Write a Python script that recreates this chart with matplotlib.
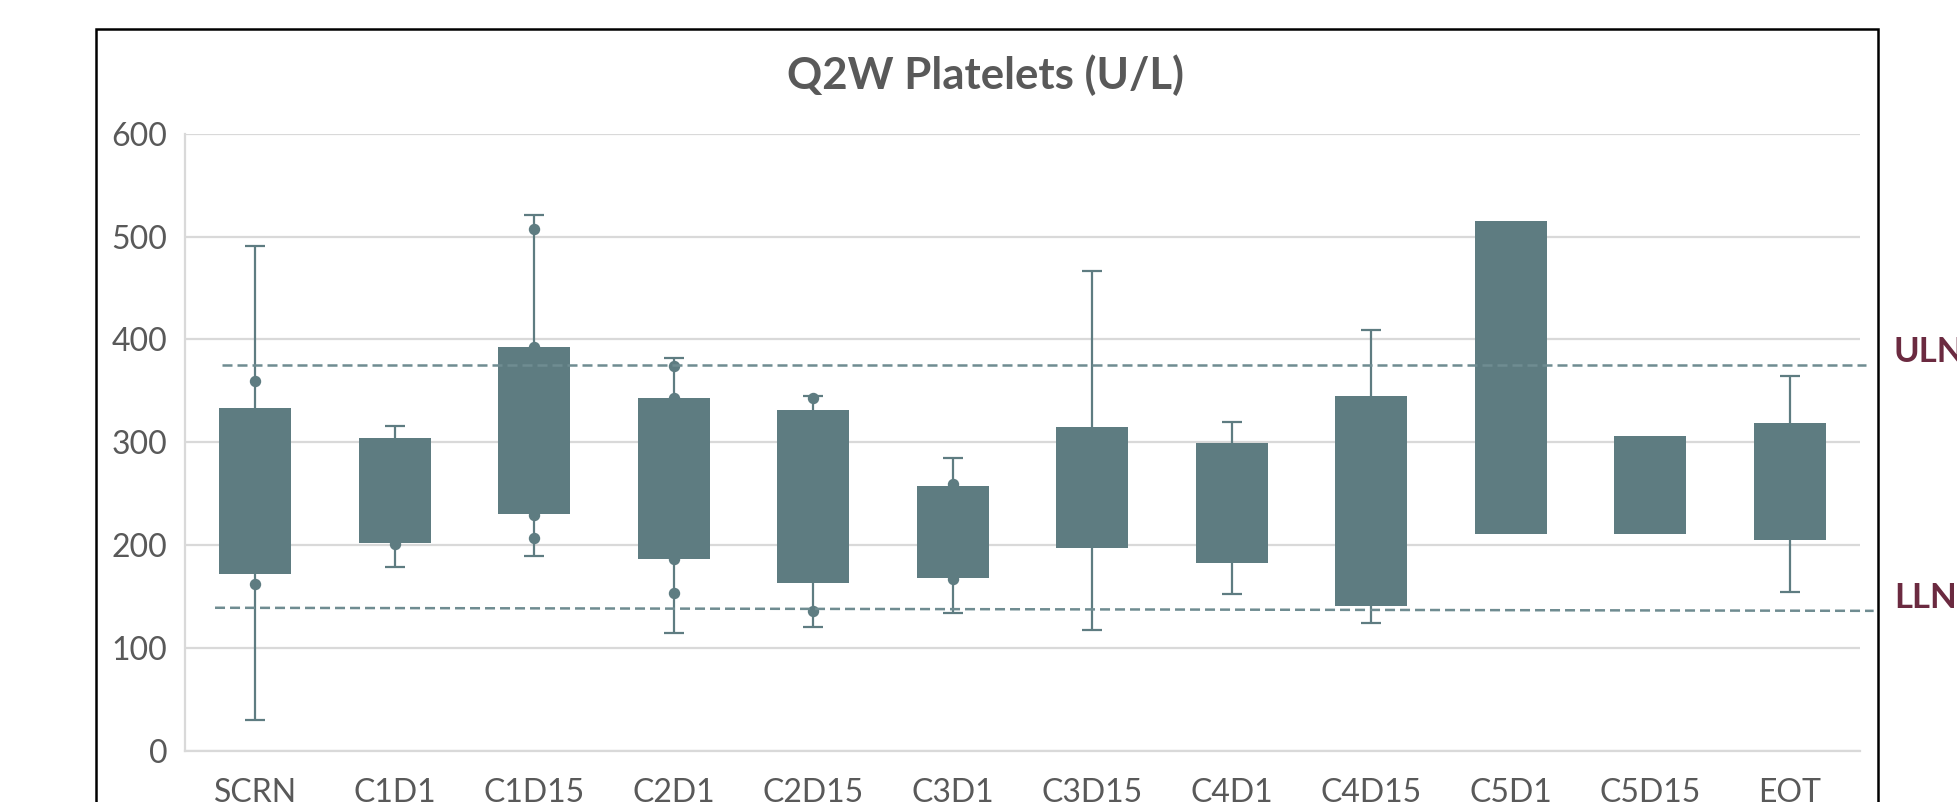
import matplotlib
matplotlib.use("Agg")
import matplotlib.pyplot as plt
from matplotlib.patches import Rectangle

# ---- data ----
categories = ["SCRN", "C1D1", "C1D15", "C2D1", "C2D15", "C3D1",
              "C3D15", "C4D1", "C4D15", "C5D1", "C5D15", "EOT"]
box_low = [172, 202, 230, 186, 163, 168, 197, 183, 141, 211, 211, 205]
box_high = [333, 304, 393, 343, 331, 257, 315, 299, 345, 515, 306, 319]
whisker_low = [30, 179, 189, 114, 120, 134, 117, 152, 124, None, None, 154]
whisker_high = [491, 316, 521, 382, 345, 285, 466, 320, 409, None, None, 364]
# individual points (category index, value)
point_cat = [0, 0, 1, 2, 2, 2, 2, 3, 3, 3, 3, 4, 4, 5, 5]
point_val = [360, 162, 201, 507, 393, 229, 207, 374, 343, 186, 153, 343, 136, 259, 167]
uln_value = [375, 375]
lln_value = [139, 136]
yticks = [0, 100, 200, 300, 400, 500, 600]

# ---- style ----
BOX = "#5E7C81"
DASH = "#6F8C91"
GRID = "#D9D9D9"
TXT = "#595959"
LIM = "#6B2A40"
FONT = "Lato"

W, H, DPI = 1957, 802, 100
fig = plt.figure(figsize=(W / DPI, H / DPI), dpi=DPI)
fig.patch.set_facecolor("white")

ax = fig.add_axes([185.3 / W, 51.3 / H, (1859.7 - 185.3) / W, (750.7 - 133.7) / H])
n = len(categories)
xs = list(range(n))
ax.set_xlim(-0.5, n - 0.5)
ax.set_ylim(0, 600)

# grid
ax.set_yticks(yticks)
ax.yaxis.grid(True, color=GRID, lw=1.6, zorder=0)
ax.set_axisbelow(True)
for s in ["top", "right"]:
    ax.spines[s].set_visible(False)
for s in ["left", "bottom"]:
    ax.spines[s].set_color(GRID)
    ax.spines[s].set_linewidth(1.6)

# points (behind boxes)
ax.plot([xs[c] for c in point_cat], point_val, "o", color=BOX, ms=7.2,
        mec=BOX, zorder=2, clip_on=False)

# whiskers
for i in xs:
    if whisker_low[i] is not None:
        ax.errorbar([i], [(whisker_low[i] + whisker_high[i]) / 2],
                    yerr=[[(whisker_high[i] - whisker_low[i]) / 2],
                          [(whisker_high[i] - whisker_low[i]) / 2]],
                    fmt="none", ecolor=BOX, elinewidth=1.6, capsize=7.5,
                    capthick=1.6, zorder=2)

# boxes
heights = [h - l for l, h in zip(box_low, box_high)]
ax.bar(xs, heights, bottom=box_low, width=0.515, color=BOX, zorder=3)

# ULN / LLN dashed lines
ax.plot([-0.237, 11.545], uln_value, ls=(0, (4.0, 2.0)), color=DASH, lw=1.8,
        zorder=4, clip_on=False)
ax.plot([-0.287, 11.60], lln_value, ls=(0, (4.0, 2.0)), color=DASH, lw=1.8,
        zorder=4, clip_on=False)

# ticks
ax.set_xticks(xs)
ax.set_xticklabels(categories)
ax.tick_params(axis="both", length=0, labelsize=23, labelcolor=TXT)
ax.tick_params(axis="x", pad=20)
ax.tick_params(axis="y", pad=13)
for lab in ax.get_xticklabels() + ax.get_yticklabels():
    lab.set_fontfamily(FONT)

# title
fig.text(985.7 / W, 1 - 75 / H, "Q2W Platelets (U/L)", ha="center", va="center",
         fontsize=31.5, fontweight="bold", color=TXT, family=FONT)

# ULN / LLN labels
fig.text(1894 / W, 1 - 352 / H, "ULN", ha="left", va="center", fontsize=25,
         fontweight="bold", color=LIM, family=FONT)
fig.text(1894 / W, 1 - 598 / H, "LLN", ha="left", va="center", fontsize=25,
         fontweight="bold", color=LIM, family=FONT)

# outer chart frame
fig.patches.append(Rectangle((96 / W, -0.1), (1878 - 96) / W, 1.1 - 29.3 / H,
                             transform=fig.transFigure, fill=False,
                             edgecolor="black", lw=1.8, zorder=10))

fig.savefig("out.png", dpi=DPI, facecolor="white")
